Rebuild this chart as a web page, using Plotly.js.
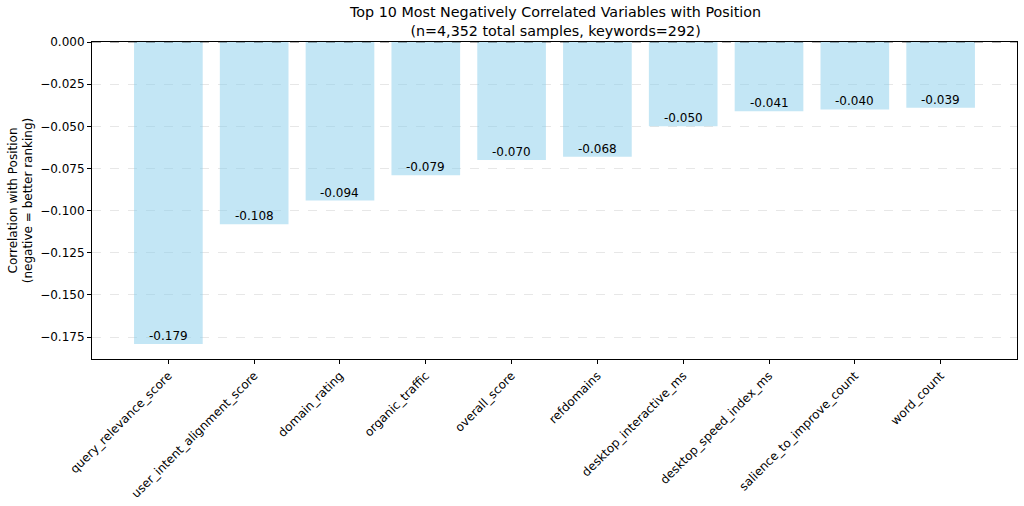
<!DOCTYPE html>
<html>
<head>
<meta charset="utf-8">
<script src="https://cdn.plot.ly/plotly-3.0.1.min.js"></script>
<style>html,body{margin:0;padding:0;background:#fff;}#chart{width:1024px;height:506px;}</style>
</head>
<body>
<div id="chart"></div>
<script>
const variables = ["query_relevance_score","user_intent_alignment_score","domain_rating","organic_traffic","overall_score","refdomains","desktop_interactive_ms","desktop_speed_index_ms","salience_to_improve_count","word_count"];
const correlations = [-0.179,-0.108,-0.094,-0.079,-0.070,-0.068,-0.050,-0.041,-0.040,-0.039];
const yTicks = [0,-0.025,-0.05,-0.075,-0.1,-0.125,-0.15,-0.175];

const font = "DejaVu Sans, sans-serif";
const xIdx = variables.map((_, i) => i);

const trace = {
  type: "bar",
  x: xIdx,
  y: correlations,
  width: 0.8,
  marker: {color: "rgba(135,206,235,0.5)", line: {width: 0}},
  hoverinfo: "skip"
};

const annotations = correlations.map((v, i) => ({
  x: i, y: v, xref: "x", yref: "y",
  text: v.toFixed(3),
  showarrow: false, yanchor: "bottom", xanchor: "center",
  yshift: -1,
  font: {family: font, size: 12, color: "#000"}
}));
annotations.push({
  xref: "paper", yref: "paper", x: 0.5, y: 1, yshift: 1,
  xanchor: "center", yanchor: "bottom",
  text: "Top 10 Most Negatively Correlated Variables with Position<br>(n=4,352 total samples, keywords=292)",
  showarrow: false, align: "center",
  font: {family: font, size: 14.3, color: "#000"}
});

const layout = {
  width: 1024, height: 506,
  margin: {l: 92, r: 7, t: 42, b: 147},
  paper_bgcolor: "#fff", plot_bgcolor: "#fff",
  showlegend: false,
  font: {family: font, color: "#000", size: 12},
  xaxis: {
    range: [-0.89, 9.89],
    tickvals: xIdx, ticktext: variables,
    tickangle: -45,
    ticks: "outside", ticklen: 4, tickcolor: "#000",
    showline: true, linecolor: "#000", linewidth: 1, mirror: true,
    showgrid: false, zeroline: false,
    tickfont: {family: font, size: 12, color: "#000"}
  },
  yaxis: {
    range: [-0.18795, 0],
    tickvals: yTicks, tickformat: ".3f",
    ticks: "outside", ticklen: 4, tickcolor: "#000",
    showline: true, linecolor: "#000", linewidth: 1, mirror: true,
    showgrid: true, gridcolor: "rgba(176,176,176,0.3)", griddash: "dash", gridwidth: 1,
    zeroline: false,
    tickfont: {family: font, size: 12, color: "#000"},
    title: {text: "Correlation with Position<br>(negative = better ranking)", font: {family: font, size: 12, color: "#000"}, standoff: 4}
  },
  shapes: [{
    type: "line", xref: "paper", yref: "y", x0: 0, x1: 1, y0: 0, y1: 0,
    line: {color: "rgba(0,0,0,0.6)", width: 1, dash: "dash"}
  }],
  annotations: annotations
};

Plotly.newPlot("chart", [trace], layout, {displayModeBar: false, staticPlot: true});
</script>
</body>
</html>
